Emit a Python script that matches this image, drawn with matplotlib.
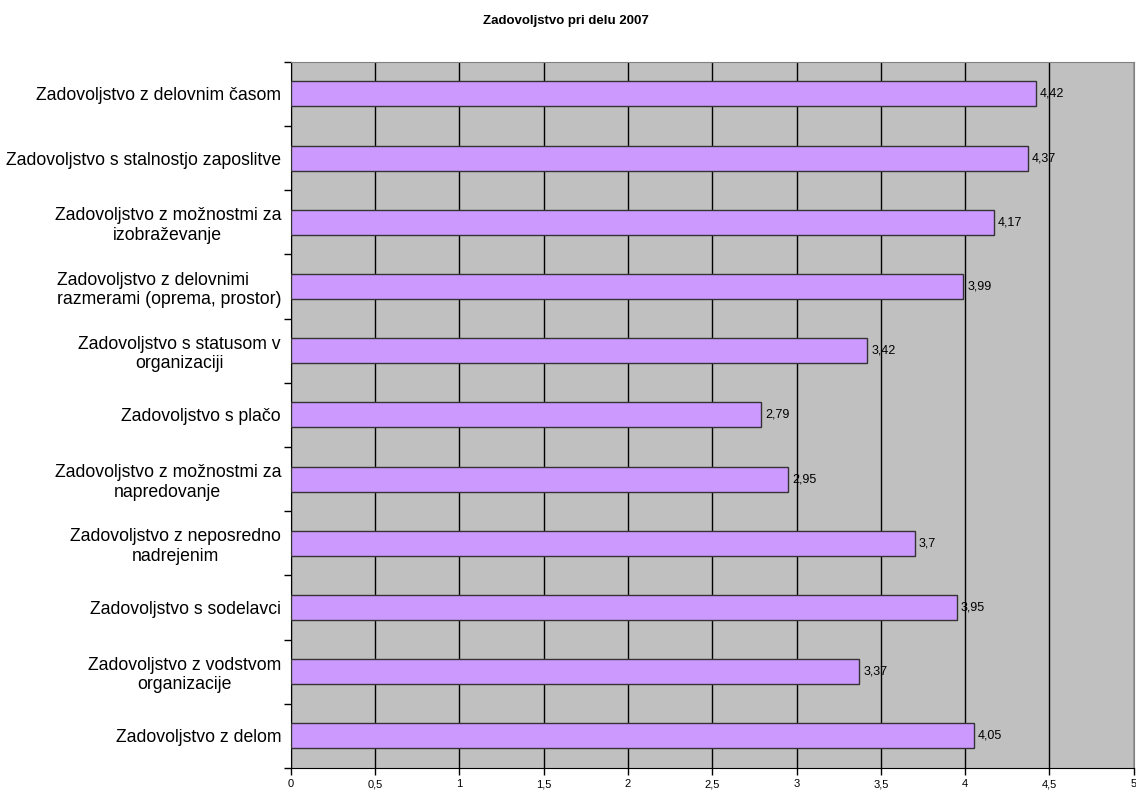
import numpy as np
import matplotlib.pyplot as plt

categories = [
    "Zadovoljstvo z delovnim časom",
    "Zadovoljstvo s stalnostjo zaposlitve",
    "Zadovoljstvo z možnostmi za\nizobraževanje",
    "Zadovoljstvo z delovnimi\nrazmerami (oprema, prostor)",
    "Zadovoljstvo s statusom v\norganizaciji",
    "Zadovoljstvo s plačo",
    "Zadovoljstvo z možnostmi za\nnapredovanje",
    "Zadovoljstvo z neposredno\nnadrejenim",
    "Zadovoljstvo s sodelavci",
    "Zadovoljstvo z vodstvom\norganizacije",
    "Zadovoljstvo z delom",
]
values = [4.42, 4.37, 4.17, 3.99, 3.42, 2.79, 2.95, 3.7, 3.95, 3.37, 4.05]
xticks = [0, 0.5, 1, 1.5, 2, 2.5, 3, 3.5, 4, 4.5, 5]

plt.rcParams['font.family'] = ['Liberation Sans', 'DejaVu Sans']

fig = plt.figure(figsize=(11.36, 7.93), dpi=100)
ax = fig.add_axes([0.256, 0.0315, 0.742, 0.8905])
ax.set_facecolor('#C0C0C0')

y = np.arange(len(categories))
ax.set_axisbelow(True)
ax.grid(axis='x', color='black', linewidth=1)
bars = ax.barh(y, values, height=0.39, color='#CC99FF', edgecolor='#333333', linewidth=1, zorder=3)

def fmt(v):
    return ('%g' % v).replace('.', ',')

for yi, v in zip(y, values):
    ax.annotate(fmt(v), (v, yi), xytext=(3, 0), textcoords='offset points',
                va='center', ha='left', fontsize=9, zorder=4)

ax.set_xlim(0, 5)
ax.set_ylim(len(categories) - 0.5, -0.5)
ax.set_xticks(xticks)
ax.set_xticklabels([fmt(t) for t in xticks], fontsize=8)

# boundary ticks as major, labels sit on minor ticks at bar centres
ax.set_yticks(np.arange(-0.5, len(categories), 1))
ax.set_yticklabels([])
ax.set_yticks(y, minor=True)
ax.set_yticklabels(categories, minor=True, fontsize=12.7, multialignment='center')
for lbl in ax.get_yticklabels(minor=True):
    if 'oprema' in lbl.get_text():
        lbl.set_multialignment('left')
ax.tick_params(axis='y', which='minor', length=0, pad=7)
ax.tick_params(axis='y', which='major', length=5, width=1)
ax.tick_params(axis='x', length=5, width=1, pad=3)

for s in ['top', 'right']:
    ax.spines[s].set_color('#808080')
for s in ['left', 'bottom']:
    ax.spines[s].set_color('black')

fig.text(0.498, 0.973, "Zadovoljstvo pri delu 2007", ha='center', va='center',
         fontsize=9.5, fontweight='bold')

fig.savefig('out.png', dpi=100)
